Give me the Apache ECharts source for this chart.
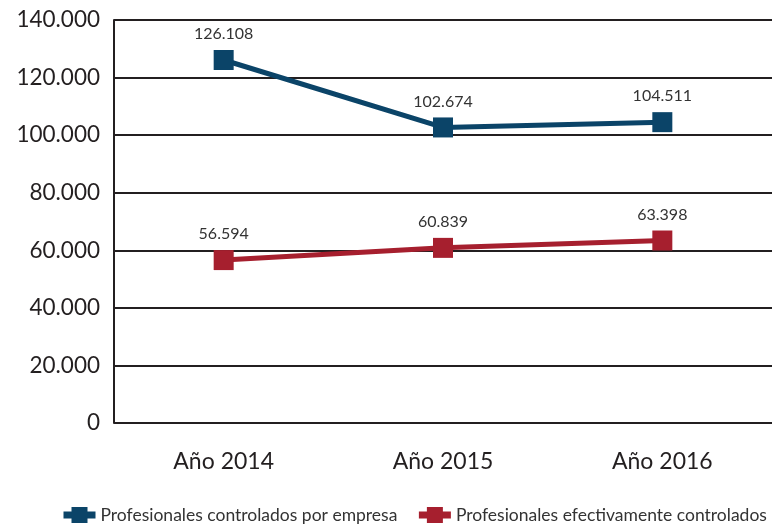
<!DOCTYPE html>
<html><head><meta charset="utf-8">
<script src="https://cdn.jsdelivr.net/npm/echarts@6/dist/echarts.min.js"></script>
<style>html,body{margin:0;padding:0;background:#fff}#c{width:776px;height:528px}</style>
</head><body><div id="c"></div>
<script>
const categories = ['Año 2014', 'Año 2015', 'Año 2016'];
const empresa = [126108, 102674, 104511];
const efectivos = [56594, 60839, 63398];
const seriesNames = ['Profesionales controlados por empresa', 'Profesionales efectivamente controlados'];
const fmt = v => v === 0 ? '0' : String(v).replace(/\B(?=(\d{3})+(?!\d))/g, '.');
const font = 'Lato';
const chart = echarts.init(document.getElementById('c'));
chart.setOption({
  animation: false,
  textStyle: { fontFamily: font },
  grid: { left: 114, right: 4, top: 20, bottom: 105 },
  legend: {
    bottom: -1, left: 55, itemWidth: 32, itemHeight: 20, itemGap: 18,
    lineStyle: { width: 7 },
    textStyle: { fontSize: 17.5, color: '#333', fontFamily: font },
    data: seriesNames
  },
  xAxis: {
    type: 'category', data: categories, boundaryGap: true,
    axisLine: { show: false }, axisTick: { show: false },
    axisLabel: { fontSize: 23, color: '#231f20', margin: 27 }
  },
  yAxis: {
    type: 'value', min: 0, max: 140000, interval: 20000,
    axisLine: { show: true, lineStyle: { color: '#231f20', width: 2 } },
    axisTick: { show: false },
    axisLabel: { fontSize: 22.5, color: '#231f20', margin: 14, formatter: fmt },
    splitLine: { lineStyle: { color: '#231f20', width: 2 } }
  },
  series: [
    { name: seriesNames[0], type: 'line', data: empresa, symbol: 'rect', symbolSize: 20,
      color: '#0b4468', lineStyle: { width: 5, color: '#0b4468' },
      label: { show: true, position: 'top', distance: 8, fontSize: 16, color: '#333', formatter: p => fmt(p.value) } },
    { name: seriesNames[1], type: 'line', data: efectivos, symbol: 'rect', symbolSize: 20,
      color: '#a61f2e', lineStyle: { width: 5, color: '#a61f2e' },
      label: { show: true, position: 'top', distance: 8, fontSize: 16, color: '#333', formatter: p => fmt(p.value) } }
  ]
});
</script></body></html>
